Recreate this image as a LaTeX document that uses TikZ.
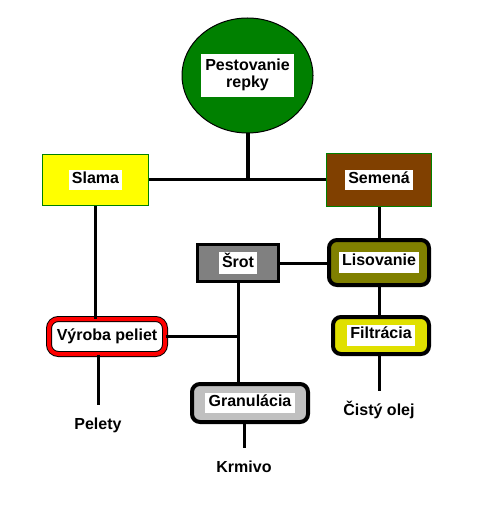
\documentclass[tikz,border=0pt]{standalone}
\usepackage{fontspec}
\setmainfont{Liberation Sans}
\usetikzlibrary{shapes.geometric}

\definecolor{fieldgreen}{RGB}{0,128,0}
\definecolor{edgegreen}{RGB}{0,128,0}
\definecolor{strawyellow}{RGB}{255,255,0}
\definecolor{seedbrown}{RGB}{128,64,0}
\definecolor{pressolive}{RGB}{128,128,0}
\definecolor{filteryellow}{RGB}{224,224,0}
\definecolor{mealgray}{RGB}{128,128,128}
\definecolor{granulegray}{RGB}{192,192,192}

% white label inside a coloured box
\newcommand{\lbl}[1]{{\fboxsep=1pt\colorbox{white}{\hspace{1.5pt}\rule[-4.25pt]{0pt}{13.25pt}#1\hspace{1.5pt}}}}

\begin{document}
\begin{tikzpicture}[%
			x=0.75pt, y=-0.75pt,
			every node/.style={font=\fontsize{12}{14.5}\selectfont\bfseries, inner sep=0pt, align=center},
			flatbox/.style={draw=edgegreen, line width=0.75pt},
			roundbox/.style={draw=black, line width=3pt, rounded corners=6pt},
			product/.style={text height=9pt, text depth=3pt},
			link/.style={line width=2.25pt},
			tolabel/.style={link, shorten >=9pt}
			]
			\useasboundingbox (0,0) rectangle (479,509);
			% source
			\node[ellipse, draw=black, line width=0.75pt, fill=fieldgreen,
				minimum width=98.25pt, minimum height=86.25pt] (pest) at (247.5,75.5)
				{{\fboxsep=3pt\colorbox{white}{\renewcommand{\arraystretch}{0.88}%
				\begin{tabular}{@{}c@{}}Pestovanie\\ repky\end{tabular}}}};
			% first split
			\node[flatbox, fill=strawyellow, minimum width=79.5pt, minimum height=38.25pt] (slama) at (95.5,180) {\lbl{Slama}};
			\node[flatbox, fill=seedbrown, minimum width=78.75pt, minimum height=39.75pt] (semena) at (379,180) {\lbl{Semená}};
			% processing
			\node[roundbox, fill=pressolive, minimum width=75pt, minimum height=33.75pt] (lisovanie) at (379,262.5) {\lbl{Lisovanie}};
			\node[draw=black, line width=2.25pt, fill=mealgray, minimum width=60.75pt, minimum height=27.75pt] (srot) at (238,263) {\lbl{Šrot}};
			\node[roundbox, fill=filteryellow, minimum width=72pt, minimum height=27.75pt] (filtracia) at (381,335.5) {\lbl{Filtrácia}};
			\node[draw=black, line width=0.75pt, double=red, double distance=3pt, rounded corners=7pt, fill=white,
				minimum width=87pt, minimum height=26.25pt] (vyroba) at (107,336.5) {Výroba peliet};
			\node[roundbox, fill=granulegray, minimum width=87pt, minimum height=28.5pt] (granulacia) at (250,403) {\lbl{Granulácia}};
			% products
			\node[product] (pelety) at (98,425.5) {Pelety};
			\node[product] (olej) at (379,411) {Čistý olej};
			\node[product] (krmivo) at (244,468) {Krmivo};

			\draw[line width=3pt] (pest.south) -- (pest.south |- slama.east);
			\draw[link] (slama.east) -- (semena.west);
			\draw[link] (slama.south) -- (slama.south |- vyroba.north);
			\draw[link] (semena.south) -- (semena.south |- lisovanie.north);
			\draw[link] (srot.east) -- (srot.east -| lisovanie.west);
			\draw[link] (lisovanie.south) -- (lisovanie.south |- filtracia.north);
			\draw[link] (srot.south) -- (srot.south |- granulacia.north);
			\draw[link] (vyroba.east) -- (vyroba.east -| srot.south);
			\draw[tolabel] (pelety.north |- vyroba.south) -- (pelety.north);
			\draw[tolabel] (olej.north |- filtracia.south) -- (olej.north);
			\draw[tolabel] (krmivo.north |- granulacia.south) -- (krmivo.north);
		\end{tikzpicture}
\end{document}
